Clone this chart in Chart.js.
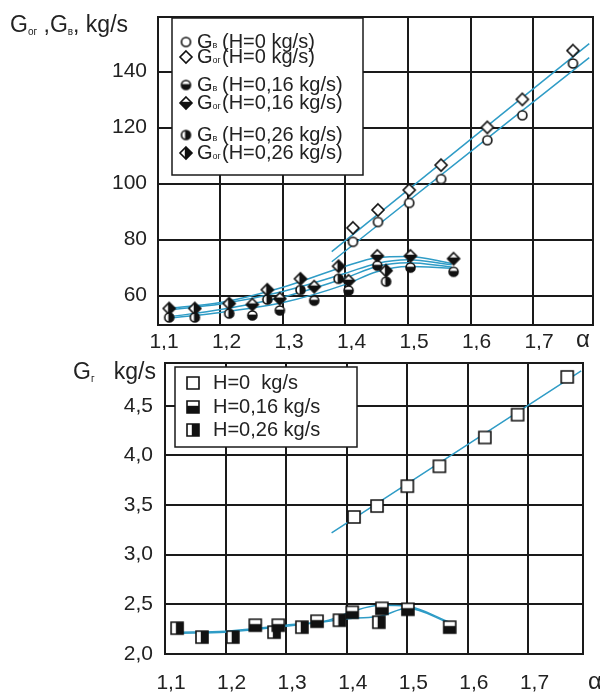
<!DOCTYPE html>
<html>
<head>
<meta charset="utf-8">
<script src="https://cdn.jsdelivr.net/npm/chart.js@4.4.1/dist/chart.umd.min.js"></script>
<style>
  html, body { margin: 0; padding: 0; background: #fff; }
  canvas { display: block; }
</style>
</head>
<body>
<canvas id="topChart" width="600" height="350"></canvas>
<canvas id="bottomChart" width="600" height="343"></canvas>
<script>
// Ticks
const alphaTicks = [1.1, 1.2, 1.3, 1.4, 1.5, 1.6, 1.7];
const topYTicks = [60, 80, 100, 120, 140];
const bottomYTicks = [2.0, 2.5, 3.0, 3.5, 4.0, 4.5];

// Haut : Gог et Gв, H = 0
const alphaH0 = [1.412, 1.452, 1.502, 1.553, 1.627, 1.683, 1.764];
const gorH0 = [84.2, 90.6, 97.7, 106.6, 120.1, 130.1, 147.5];
const gvH0 = [79.2, 86.3, 93.1, 101.6, 115.5, 124.4, 142.9];

// Haut : H = 0,16
const alphaH16 = [1.251, 1.295, 1.350, 1.405, 1.451, 1.504, 1.573];
const gorH16 = [56.8, 58.9, 63.2, 65.3, 74.2, 74.2, 73.2];
const gvH16 = [52.9, 54.7, 58.2, 61.8, 70.7, 70.0, 68.5];

// Haut : H = 0,26
const alphaH26 = [1.118, 1.159, 1.214, 1.275, 1.328, 1.389, 1.465];
const gorH26 = [55.4, 55.4, 57.2, 62.1, 66.0, 70.5, 68.9];
const gvH26 = [52.2, 52.2, 53.6, 58.6, 62.0, 66.0, 65.0];

// Haut : courbes d'approximation
const lineAlphaH0 = [1.378, 1.79];
const lineGorH0 = [75.7, 150];
const lineGvH0 = [72.1, 145];
const fitAlpha = [1.12, 1.2, 1.3, 1.4, 1.45, 1.5, 1.57];
const fitGor16 = [55.5, 57.5, 63, 70.5, 73.5, 74, 71.5];
const fitGor26 = [55, 57, 61.5, 68, 71.5, 72.8, 71];
const fitGv16 = [52.5, 55, 59.5, 66.3, 70.4, 71.7, 70.2];
const fitGv26 = [52, 54, 57.5, 64, 68.5, 70.4, 69.8];

// Bas : Gг
const alphaGrH0 = [1.412, 1.450, 1.500, 1.553, 1.628, 1.682, 1.764];
const grH0 = [3.38, 3.49, 3.69, 3.89, 4.18, 4.41, 4.79];
const alphaGr16 = [1.249, 1.287, 1.351, 1.409, 1.458, 1.501, 1.570];
const gr16 = [2.29, 2.29, 2.33, 2.42, 2.46, 2.45, 2.27];
const alphaGr26 = [1.120, 1.161, 1.212, 1.280, 1.326, 1.388, 1.453];
const gr26 = [2.26, 2.17, 2.17, 2.22, 2.27, 2.34, 2.32];
const lineAlphaGrH0 = [1.375, 1.787];
const lineGrH0 = [3.22, 4.85];
const fitAlphaGr = [1.12, 1.2, 1.3, 1.37, 1.41, 1.455, 1.5, 1.57];
const fitGr16 = [2.22, 2.23, 2.29, 2.34, 2.43, 2.49, 2.48, 2.32];
const fitGr26 = [2.21, 2.22, 2.28, 2.33, 2.36, 2.38, 2.46, 2.31];

const FONT = '"Liberation Sans", Arial, sans-serif';
const INK = '#222';
const GRID = '#1a1a1a';
const BLUE = '#2f9cc6';

// Marqueurs dessinés sur un petit canvas
function makeMarker(shape, fill, size) {
    const pad = 2;
    const c = document.createElement('canvas');
    c.width = c.height = size + pad * 2;
    const g = c.getContext('2d');
    const m = c.width / 2, r = size / 2;
    function path() {
        g.beginPath();
        if (shape === 'circle') g.arc(m, m, r, 0, Math.PI * 2);
        else if (shape === 'diamond') {
            g.moveTo(m, m - r); g.lineTo(m + r, m); g.lineTo(m, m + r); g.lineTo(m - r, m); g.closePath();
        } else g.rect(m - r, m - r, size, size);
    }
    path(); g.fillStyle = '#fff'; g.fill();
    if (fill !== 'none') {
        g.save(); path(); g.clip();
        g.fillStyle = '#111';
        if (fill === 'bottom') g.fillRect(0, m - r * 0.2, c.width, c.height);
        else g.fillRect(m - r * 0.2, 0, c.width, c.height);
        g.restore();
    }
    path(); g.lineWidth = 1.6; g.strokeStyle = '#111'; g.stroke();
    return c;
}

const mk = {
    circle0: makeMarker('circle', 'none', 9),
    circle16: makeMarker('circle', 'bottom', 9),
    circle26: makeMarker('circle', 'right', 9),
    diamond0: makeMarker('diamond', 'none', 12),
    diamond16: makeMarker('diamond', 'bottom', 12),
    diamond26: makeMarker('diamond', 'right', 12),
    square0: makeMarker('square', 'none', 12),
    square16: makeMarker('square', 'bottom', 12),
    square26: makeMarker('square', 'right', 12)
};

function toPoints(xs, ys) {
    return xs.map((x, i) => ({ x: x, y: ys[i] }));
}

function pointSet(xs, ys, marker) {
    return {
        data: toPoints(xs, ys),
        showLine: false,
        pointStyle: marker,
        pointRadius: 6,
        order: 1
    };
}

function lineSet(xs, ys) {
    return {
        data: toPoints(xs, ys),
        showLine: true,
        borderColor: BLUE,
        borderWidth: 1.5,
        pointRadius: 0,
        cubicInterpolationMode: 'monotone',
        order: 2
    };
}

function comma(v) {
    return v.toFixed(1).replace('.', ',');
}

// Texte avec indices
function drawRich(ctx, x, y, parts) {
    parts.forEach(p => {
        ctx.font = p.size + 'px ' + FONT;
        ctx.fillText(p.t, x, y + (p.dy || 0));
        x += ctx.measureText(p.t).width;
    });
    return x;
}

// Cadre, légende et titres
const panelPlugin = {
    id: 'panel',
    afterDraw(chart, args, opts) {
        const { ctx, chartArea: a } = chart;
        ctx.save();
        ctx.strokeStyle = GRID;
        ctx.lineWidth = 2;
        ctx.strokeRect(a.left, a.top, a.right - a.left, a.bottom - a.top);

        const b = opts.box;
        ctx.fillStyle = '#fff';
        ctx.fillRect(a.left + b.x, a.top + b.y, b.w, b.h);
        ctx.lineWidth = 1.5;
        ctx.strokeRect(a.left + b.x, a.top + b.y, b.w, b.h);

        ctx.fillStyle = INK;
        ctx.textBaseline = 'middle';
        opts.rows.forEach(row => {
            const img = row.marker;
            ctx.drawImage(img, a.left + opts.markerX - img.width / 2, a.top + row.y - img.height / 2);
            let x = drawRich(ctx, a.left + opts.textX, a.top + row.y, row.head);
            if (row.tailX) x = a.left + row.tailX;
            drawRich(ctx, x, a.top + row.y, [{ t: row.tail, size: opts.size }]);
        });

        ctx.textBaseline = 'alphabetic';
        drawRich(ctx, opts.title.x, opts.title.y, opts.title.parts);

        ctx.textAlign = 'center';
        ctx.textBaseline = 'middle';
        ctx.font = '24px ' + FONT;
        ctx.fillText('\u03b1', a.right + opts.alpha.dx, a.bottom + opts.alpha.dy);
        ctx.restore();
    }
};

function baseOptions(xMax, yMin, yMax, yTicks, yWidth, xHeight, xPad, yPad, padding, panel) {
    return {
        responsive: false,
        animation: false,
        layout: { padding: padding },
        plugins: { legend: { display: false }, tooltip: { enabled: false }, panel: panel },
        scales: {
            x: {
                type: 'linear',
                min: 1.1,
                max: xMax,
                afterBuildTicks: s => { s.ticks = alphaTicks.map(v => ({ value: v })); },
                afterFit: s => { s.height = xHeight; s.paddingLeft = 0; s.paddingRight = 0; },
                grid: { color: GRID, lineWidth: 2, drawTicks: false },
                border: { color: GRID, width: 2 },
                ticks: { color: INK, font: { family: FONT, size: 21 }, padding: xPad, labelOffset: 6, maxRotation: 0, callback: v => comma(v) }
            },
            y: {
                type: 'linear',
                min: yMin,
                max: yMax,
                afterBuildTicks: s => { s.ticks = yTicks.map(v => ({ value: v })); },
                afterFit: s => { s.width = yWidth; s.paddingTop = 0; s.paddingBottom = 0; },
                grid: { color: GRID, lineWidth: 2, drawTicks: false },
                border: { color: GRID, width: 2 },
                ticks: { color: INK, font: { family: FONT, size: 21 }, padding: yPad }
            }
        }
    };
}

const topOptions = baseOptions(1.796, 49.5, 159.5, topYTicks, 158, 25, 5, 11,
    { top: 17, right: 7, left: 0, bottom: 0 },
    {
        box: { x: 14, y: 1, w: 191, h: 157 },
        markerX: 28, textX: 39, size: 20,
        rows: [
            { y: 25, marker: mk.circle0, head: [{ t: 'G', size: 20 }, { t: 'в', size: 9, dy: 4 }], tail: '(H=0 kg/s)', tailX: 64 },
            { y: 40, marker: mk.diamond0, head: [{ t: 'G', size: 20 }, { t: 'ог', size: 9, dy: 4 }], tail: '(H=0 kg/s)', tailX: 64 },
            { y: 68, marker: mk.circle16, head: [{ t: 'G', size: 20 }, { t: 'в', size: 9, dy: 4 }], tail: '(H=0,16 kg/s)', tailX: 64 },
            { y: 86, marker: mk.diamond16, head: [{ t: 'G', size: 20 }, { t: 'ог', size: 9, dy: 4 }], tail: '(H=0,16 kg/s)', tailX: 64 },
            { y: 118, marker: mk.circle26, head: [{ t: 'G', size: 20 }, { t: 'в', size: 9, dy: 4 }], tail: '(H=0,26 kg/s)', tailX: 64 },
            { y: 136, marker: mk.diamond26, head: [{ t: 'G', size: 20 }, { t: 'ог', size: 9, dy: 4 }], tail: '(H=0,26 kg/s)', tailX: 64 }
        ],
        title: { x: 10, y: 32, parts: [
            { t: 'G', size: 23 }, { t: 'ог', size: 10, dy: 3 }, { t: ' ,G', size: 23 },
            { t: 'в', size: 10, dy: 3 }, { t: ', kg/s', size: 23 }] },
        alpha: { dx: -10, dy: 15 }
    });

const bottomOptions = baseOptions(1.79, 2.0, 4.93, bottomYTicks, 165, 39, 17, 12,
    { top: 13, right: 17, left: 0, bottom: 0 },
    {
        box: { x: 10, y: 4, w: 182, h: 80 },
        markerX: 28, textX: 48, size: 20,
        rows: [
            { y: 20, marker: mk.square0, head: [], tail: 'H=0  kg/s' },
            { y: 44, marker: mk.square16, head: [], tail: 'H=0,16 kg/s' },
            { y: 67, marker: mk.square26, head: [], tail: 'H=0,26 kg/s' }
        ],
        title: { x: 73, y: 29, parts: [
            { t: 'G', size: 23 }, { t: 'г', size: 10, dy: 3 }, { t: '   kg/s', size: 23 }] },
        alpha: { dx: 12, dy: 28 }
    });
bottomOptions.scales.y.ticks.callback = v => comma(v);

new Chart(document.getElementById('topChart'), {
    type: 'scatter',
    data: {
        datasets: [
            lineSet(lineAlphaH0, lineGorH0),
            lineSet(lineAlphaH0, lineGvH0),
            lineSet(fitAlpha, fitGor16),
            lineSet(fitAlpha, fitGor26),
            lineSet(fitAlpha, fitGv16),
            lineSet(fitAlpha, fitGv26),
            pointSet(alphaH0, gvH0, mk.circle0),
            pointSet(alphaH0, gorH0, mk.diamond0),
            pointSet(alphaH16, gvH16, mk.circle16),
            pointSet(alphaH16, gorH16, mk.diamond16),
            pointSet(alphaH26, gvH26, mk.circle26),
            pointSet(alphaH26, gorH26, mk.diamond26)
        ]
    },
    options: topOptions,
    plugins: [panelPlugin]
});

new Chart(document.getElementById('bottomChart'), {
    type: 'scatter',
    data: {
        datasets: [
            lineSet(lineAlphaGrH0, lineGrH0),
            lineSet(fitAlphaGr, fitGr16),
            lineSet(fitAlphaGr, fitGr26),
            pointSet(alphaGrH0, grH0, mk.square0),
            pointSet(alphaGr16, gr16, mk.square16),
            pointSet(alphaGr26, gr26, mk.square26)
        ]
    },
    options: bottomOptions,
    plugins: [panelPlugin]
});
</script>
</body>
</html>
